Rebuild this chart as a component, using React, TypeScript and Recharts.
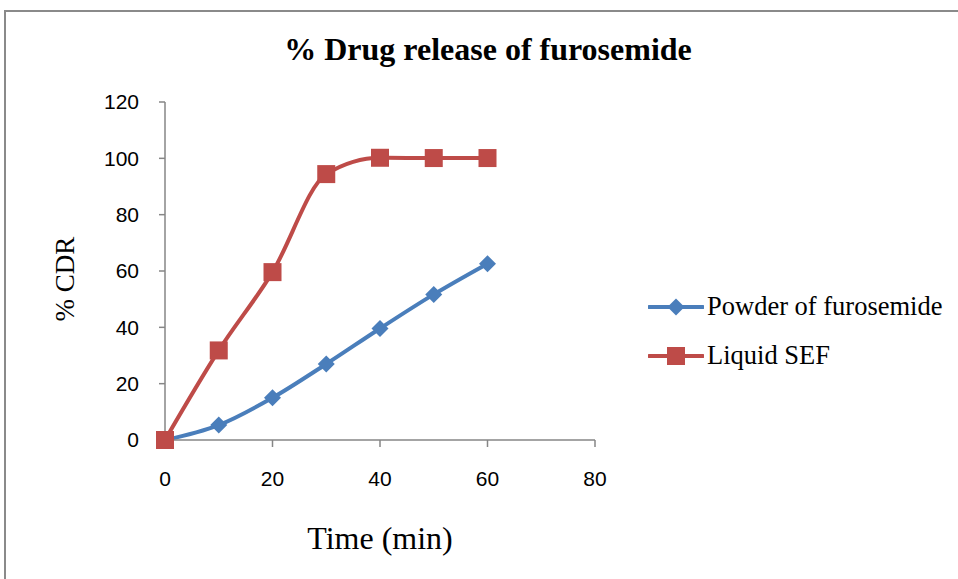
import React from "react";
import { LineChart, Line, XAxis, YAxis, Legend, Label } from "recharts";

// time points (min) and % cumulative drug release for each formulation
const times = [0, 10, 20, 30, 40, 50, 60];
const powderValues = [0, 5.3, 15, 27, 39.6, 51.7, 62.6];
const liquidValues = [0, 31.8, 59.6, 94.4, 100.2, 100.1, 100.1];
const xTicks = [0, 20, 40, 60, 80];
const yTicks = [0, 20, 40, 60, 80, 100, 120];
const seriesOrder = ["powder", "liquid"];

const BLUE = "#4a7ebb";
const RED = "#be4b48";
const AXIS = "#868686";
const SERIF = "'Liberation Serif', 'Times New Roman', serif";
const SANS = "'Liberation Sans', Arial, sans-serif";

const data = times.map((t, i) => ({
  t,
  powder: powderValues[i],
  liquid: liquidValues[i],
}));

const Diamond = ({ cx, cy, fill }: any) => (
  <path
    d={`M${cx},${cy - 8.5}L${cx + 8.5},${cy}L${cx},${cy + 8.5}L${cx - 8.5},${cy}Z`}
    fill={fill}
  />
);

const Square = ({ cx, cy, fill }: any) => (
  <rect x={cx - 9} y={cy - 9} width={18} height={18} fill={fill} />
);

const renderLegend = ({ payload }: any) => {
  const items = [...(payload || [])].sort(
    (a: any, b: any) => seriesOrder.indexOf(a.dataKey) - seriesOrder.indexOf(b.dataKey)
  );
  return (
    <div style={{ display: "flex", flexDirection: "column", gap: 22 }}>
      {items.map((entry: any) => {
        const isPowder = entry.dataKey === "powder";
        return (
          <div
            key={entry.dataKey}
            style={{ display: "flex", alignItems: "center", height: 27 }}
          >
            <svg width={56} height={20} style={{ marginRight: 3 }}>
              <line x1={1} y1={10} x2={55} y2={10} stroke={entry.color} strokeWidth={4} strokeLinecap="round" />
              {isPowder ? (
                <Diamond cx={28} cy={10} fill={entry.color} />
              ) : (
                <Square cx={28} cy={10} fill={entry.color} />
              )}
            </svg>
            <span style={{ fontFamily: SERIF, fontSize: 26.5, color: "#000", whiteSpace: "nowrap" }}>
              {entry.value}
            </span>
          </div>
        );
      })}
    </div>
  );
};

export default function App() {
  return (
    <div style={{ position: "absolute", left: 0, top: 0, width: 958, height: 579, background: "#fff", overflow: "hidden" }}>
      <div
        style={{
          position: "absolute",
          left: 4,
          top: 10,
          width: 970,
          height: 600,
          border: "2px solid #8a8a8a",
        }}
      />
      <div
        style={{
          position: "absolute",
          left: 0,
          width: 976,
          top: 31,
          textAlign: "center",
          fontFamily: SERIF,
          fontWeight: "bold",
          fontSize: 32,
          color: "#000",
        }}
      >
        % Drug release of furosemide
      </div>
      <div style={{ position: "absolute", left: 0, top: 0 }}>
        <LineChart
          width={958}
          height={579}
          data={data}
          margin={{ top: 102, right: 53, bottom: 79, left: 105 }}
        >
          <XAxis
            dataKey="t"
            type="number"
            domain={[0, 80]}
            ticks={xTicks}
            tickSize={7}
            tickMargin={24}
            height={60}
            stroke={AXIS}
            strokeWidth={1.5}
            tick={{ fill: "#000", fontSize: 21, fontFamily: SANS }}
          >
            <Label
              content={({ viewBox }: any) => (
                <text
                  x={viewBox.x + viewBox.width / 2}
                  y={viewBox.y + 98}
                  textAnchor="middle"
                  dominantBaseline="central"
                  fontFamily={SERIF}
                  fontSize={32}
                  fill="#000"
                >
                  Time (min)
                </text>
              )}
            />
          </XAxis>
          <YAxis
            domain={[0, 120]}
            ticks={yTicks}
            tickSize={6}
            tickMargin={20}
            width={60}
            stroke={AXIS}
            strokeWidth={1.5}
            tick={{ fill: "#000", fontSize: 21, fontFamily: SANS }}
          >
            <Label
              content={({ viewBox }: any) => {
                const x = viewBox.x - 40;
                const y = viewBox.y + viewBox.height / 2 + 8;
                return (
                  <text
                    x={x}
                    y={y}
                    transform={`rotate(-90, ${x}, ${y})`}
                    textAnchor="middle"
                    dominantBaseline="central"
                    fontFamily={SERIF}
                    fontSize={27}
                    fill="#000"
                  >
                    % CDR
                  </text>
                );
              }}
            />
          </YAxis>
          <Legend
            layout="vertical"
            align="right"
            verticalAlign="middle"
            content={renderLegend}
            wrapperStyle={{ left: 648, top: 293, width: 310 }}
          />
          <Line
            dataKey="powder"
            name="Powder of furosemide"
            type="monotone"
            stroke={BLUE}
            strokeWidth={4}
            isAnimationActive={false}
            dot={(p: any) => <Diamond key={`d-${p.index}`} cx={p.cx} cy={p.cy} fill={BLUE} />}
            activeDot={false}
          />
          <Line
            dataKey="liquid"
            name="Liquid SEF"
            type="monotone"
            stroke={RED}
            strokeWidth={4}
            isAnimationActive={false}
            dot={(p: any) => <Square key={`s-${p.index}`} cx={p.cx} cy={p.cy} fill={RED} />}
            activeDot={false}
          />
        </LineChart>
      </div>
    </div>
  );
}
